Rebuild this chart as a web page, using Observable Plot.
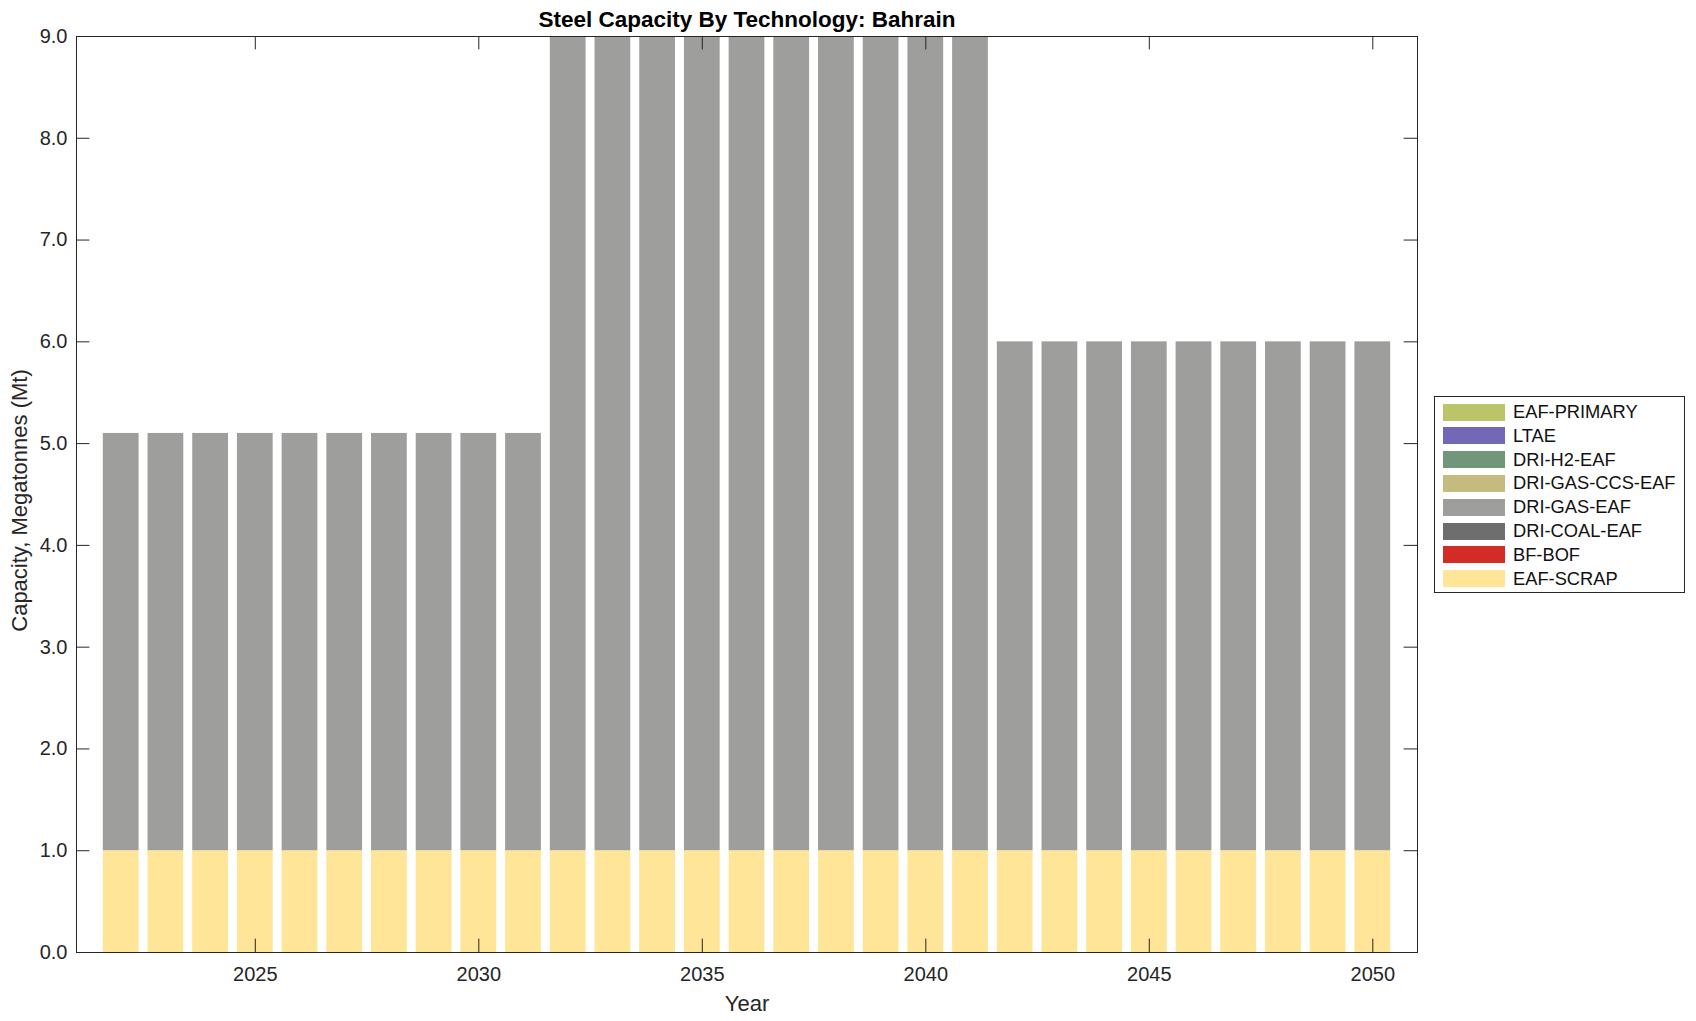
<!DOCTYPE html>
<html>
<head>
<meta charset="utf-8">
<script src="https://cdn.jsdelivr.net/npm/d3@7"></script>
<script src="https://cdn.jsdelivr.net/npm/@observablehq/plot@0.6"></script>
<style>
  html, body { margin: 0; padding: 0; background: #fff; }
  #wrap { position: relative; width: 1696px; height: 1021px; font-family: "Liberation Sans", Arial, Helvetica, sans-serif; color: #262626; }
  #legend { position: absolute; left: 1434px; top: 396px; width: 251px; height: 197px; border: 1px solid #262626; background: #fff; box-sizing: border-box; }
  .row { position: absolute; left: 0; height: 24px; display: flex; align-items: center; font-size: 18.3px; color: #111; }
  .sw { width: 62px; height: 17px; margin-left: 8px; margin-right: 8px; box-sizing: border-box; }
</style>
</head>
<body>
<div id="wrap"><div id="legend"></div></div>
<script>
// ---- Data ----
const title = "Steel Capacity By Technology: Bahrain";
const xLabel = "Year";
const yLabel = "Capacity, Megatonnes (Mt)";
const years = [2022, 2023, 2024, 2025, 2026, 2027, 2028, 2029, 2030, 2031,
               2032, 2033, 2034, 2035, 2036, 2037, 2038, 2039, 2040, 2041,
               2042, 2043, 2044, 2045, 2046, 2047, 2048, 2049, 2050];
// stack order bottom -> top
const techs = ["EAF-SCRAP", "BF-BOF", "DRI-COAL-EAF", "DRI-GAS-EAF", "DRI-GAS-CCS-EAF", "DRI-H2-EAF", "LTAE", "EAF-PRIMARY"];
const techColors = ["#FFE597", "#D22C26", "#6E6E6E", "#9E9E9D", "#C4BB7E", "#72967A", "#7268B5", "#BCC46A"];
const eafScrap   = [1.0, 1.0, 1.0, 1.0, 1.0, 1.0, 1.0, 1.0, 1.0, 1.0,
                    1.0, 1.0, 1.0, 1.0, 1.0, 1.0, 1.0, 1.0, 1.0, 1.0,
                    1.0, 1.0, 1.0, 1.0, 1.0, 1.0, 1.0, 1.0, 1.0];
const bfBof      = [0, 0, 0, 0, 0, 0, 0, 0, 0, 0, 0, 0, 0, 0, 0, 0, 0, 0, 0, 0, 0, 0, 0, 0, 0, 0, 0, 0, 0];
const driCoalEaf = [0, 0, 0, 0, 0, 0, 0, 0, 0, 0, 0, 0, 0, 0, 0, 0, 0, 0, 0, 0, 0, 0, 0, 0, 0, 0, 0, 0, 0];
const driGasEaf  = [4.1, 4.1, 4.1, 4.1, 4.1, 4.1, 4.1, 4.1, 4.1, 4.1,
                    8.0, 8.0, 8.0, 8.0, 8.0, 8.0, 8.0, 8.0, 8.0, 8.0,
                    5.0, 5.0, 5.0, 5.0, 5.0, 5.0, 5.0, 5.0, 5.0];
const driGasCcsEaf = [0, 0, 0, 0, 0, 0, 0, 0, 0, 0, 0, 0, 0, 0, 0, 0, 0, 0, 0, 0, 0, 0, 0, 0, 0, 0, 0, 0, 0];
const driH2Eaf   = [0, 0, 0, 0, 0, 0, 0, 0, 0, 0, 0, 0, 0, 0, 0, 0, 0, 0, 0, 0, 0, 0, 0, 0, 0, 0, 0, 0, 0];
const ltae       = [0, 0, 0, 0, 0, 0, 0, 0, 0, 0, 0, 0, 0, 0, 0, 0, 0, 0, 0, 0, 0, 0, 0, 0, 0, 0, 0, 0, 0];
const eafPrimary = [0, 0, 0, 0, 0, 0, 0, 0, 0, 0, 0, 0, 0, 0, 0, 0, 0, 0, 0, 0, 0, 0, 0, 0, 0, 0, 0, 0, 0];
const yTicks = [0, 1, 2, 3, 4, 5, 6, 7, 8, 9];
const xTicks = [2025, 2030, 2035, 2040, 2045, 2050];
const xDomain = [2021, 2051];
const yDomain = [0, 9];

// ---- Build stacked table ----
const series = [eafScrap, bfBof, driCoalEaf, driGasEaf, driGasCcsEaf, driH2Eaf, ltae, eafPrimary];
const rows = [];
years.forEach((yr, i) => {
  let acc = 0;
  techs.forEach((t, k) => {
    const v = series[k][i];
    if (v > 0) rows.push({year: yr, tech: t, y1: acc, y2: acc + v});
    acc += v;
  });
});

// ---- Layout ----
const W = 1696, H = 1021;
const mL = 76, mR = 279, mT = 36, mB = 69;
const plotW = W - mL - mR, plotH = H - mT - mB;
const tickLen = 13.4;
const ink = "#262626";
const barHalf = 0.4;

const chart = Plot.plot({
  width: W, height: H,
  marginLeft: mL, marginRight: mR, marginTop: mT, marginBottom: mB,
  style: {fontFamily: '"Liberation Sans", Arial, Helvetica, sans-serif', color: ink, background: "white", overflow: "visible"},
  x: {domain: xDomain, axis: null},
  y: {domain: yDomain, axis: null},
  color: {domain: techs, range: techColors},
  marks: [
    Plot.rect(rows, {x1: d => d.year - barHalf, x2: d => d.year + barHalf, y1: "y1", y2: "y2", fill: "tech"}),
    Plot.frame({stroke: ink, strokeWidth: 1}),
    Plot.tickY(yTicks, {y: d => d, stroke: ink, insetRight: plotW - tickLen}),
    Plot.tickY(yTicks, {y: d => d, stroke: ink, insetLeft: plotW - tickLen}),
    Plot.tickX(xTicks, {x: d => d, stroke: ink, insetTop: plotH - tickLen}),
    Plot.tickX(xTicks, {x: d => d, stroke: ink, insetBottom: plotH - tickLen}),
    Plot.axisY({ticks: yTicks, tickFormat: d => d.toFixed(1), tickSize: 0, tickPadding: 9, fontSize: 20, label: null}),
    Plot.axisX({ticks: xTicks, tickFormat: d => String(d), tickSize: 0, tickPadding: 14, fontSize: 20, label: null}),
    Plot.text([xLabel], {text: d => d, frameAnchor: "bottom", lineAnchor: "top", dy: 43, fontSize: 22, fill: ink}),
    Plot.text([yLabel], {text: d => d, frameAnchor: "left", textAnchor: "middle", rotate: -90, lineAnchor: "top", dx: -65, dy: 6, fontSize: 22, fill: ink}),
    Plot.text([title], {text: d => d, frameAnchor: "top", lineAnchor: "middle", dy: -16.5, fontSize: 22.5, fontWeight: "bold", fill: "#000"})
  ]
});
document.getElementById("wrap").prepend(chart);

// ---- Legend (top to bottom = reverse of stack order) ----
const legend = document.getElementById("legend");
const legendOrder = techs.slice().reverse();
legendOrder.forEach((t, i) => {
  const row = document.createElement("div");
  row.className = "row";
  row.style.top = (3 + i * 23.8) + "px";
  const sw = document.createElement("div");
  sw.className = "sw";
  sw.style.background = techColors[techs.indexOf(t)];
  const lab = document.createElement("span");
  lab.textContent = t;
  row.appendChild(sw);
  row.appendChild(lab);
  legend.appendChild(row);
});
</script>
</body>
</html>
